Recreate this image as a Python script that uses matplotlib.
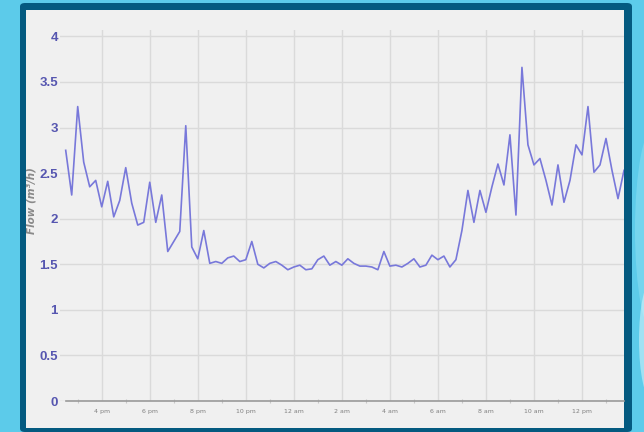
import matplotlib
matplotlib.use("Agg")
import matplotlib.pyplot as plt
from matplotlib.patches import FancyBboxPatch, Rectangle, Ellipse
import numpy as np

# ---- data (15-minute samples starting 2:30 pm) ----
flow = [2.75, 2.26, 3.23, 2.62, 2.35, 2.42, 2.13, 2.41, 2.02, 2.20,
        2.56, 2.17, 1.93, 1.96, 2.40, 1.96, 2.26, 1.64, 1.75, 1.86,
        3.02, 1.69, 1.56, 1.87, 1.51, 1.53, 1.51, 1.57, 1.59, 1.53,
        1.55, 1.75, 1.50, 1.46, 1.51, 1.53, 1.49, 1.44, 1.47, 1.49,
        1.44, 1.45, 1.55, 1.59, 1.49, 1.53, 1.49, 1.56, 1.51, 1.48,
        1.48, 1.47, 1.44, 1.64, 1.48, 1.49, 1.47, 1.51, 1.56, 1.47,
        1.49, 1.60, 1.55, 1.59, 1.47, 1.55, 1.87, 2.31, 1.96, 2.31,
        2.07, 2.35, 2.60, 2.37, 2.92, 2.04, 3.66, 2.81, 2.59, 2.66,
        2.42, 2.15, 2.59, 2.18, 2.42, 2.81, 2.70, 3.23, 2.51, 2.59,
        2.88, 2.53, 2.22, 2.53]
x_tick_labels = ["4 pm", "6 pm", "8 pm", "10 pm", "12 am", "2 am", "4 am",
                 "6 am", "8 am", "10 am", "12 pm"]
y_ticks = [0, 0.5, 1, 1.5, 2, 2.5, 3, 3.5, 4]
y_label = "Flow (m³/h)"

W, H = 644, 432
fig = plt.figure(figsize=(W / 100, H / 100), dpi=100)
fig.patch.set_facecolor("#5ccbea")

# decorative swirl on the right background
for (cx, cy, w, h, a, c) in [(655, 230, 40, 210, 0.35, "#a9e9f8"),
                             (652, 340, 26, 120, 0.5, "#e6f8fd")]:
    fig.patches.append(Ellipse((cx / W, 1 - cy / H), w / W, h / H,
                               transform=fig.transFigure, facecolor=c,
                               alpha=a, edgecolor="none", zorder=-4))

# dark frame and light panel
frame = FancyBboxPatch((20 / W, 0 / H), 612 / W, 429 / H,
                       boxstyle="round,pad=0,rounding_size=0.008",
                       transform=fig.transFigure, facecolor="#045a80",
                       edgecolor="none", zorder=-3)
fig.patches.append(frame)
panel = Rectangle((26 / W, 4 / H), 598 / W, 418 / H, transform=fig.transFigure,
                  facecolor="#f0f0f0", edgecolor="none", zorder=-2)
fig.patches.append(panel)

# axes
left, right = 60.0, 624
bottom_px, top_px = 401, 30
ax = fig.add_axes([left / W, (H - bottom_px) / H, (right - left) / W,
                   (bottom_px - top_px) / H])
ax.set_facecolor("#f0f0f0")

x = np.arange(len(flow))
ax.plot(x, flow, color="#7878da", linewidth=1.2, zorder=3, clip_on=True)

ax.set_xlim(-0.95, 93)
ax.set_ylim(0, 4.07)

major_x = [6 + 8 * k for k in range(len(x_tick_labels))]
ax.set_xticks(major_x)
ax.set_xticklabels(x_tick_labels)
ax.set_xticks([6 + 4 * k for k in range(-1, 22)], minor=True)
ax.set_yticks(y_ticks)
ax.set_yticklabels(["%g" % v for v in y_ticks])

ax.grid(True, which="major", color="#dadada", linewidth=1.0, zorder=1)
for s in ["top", "right", "left"]:
    ax.spines[s].set_visible(False)
ax.spines["bottom"].set_color("#9a9a9a")
ax.spines["bottom"].set_linewidth(1.2)
ax.spines["bottom"].set_bounds(0, 93)

ax.tick_params(axis="x", which="major", length=0, pad=6, labelsize=4.5,
               labelcolor="#808080")
ax.tick_params(axis="x", which="minor", length=3, direction="inout",
               color="#c8c8c8", width=0.8)
ax.tick_params(axis="y", length=0, pad=1.5, labelsize=9.5,
               labelcolor="#5656b0")
for t in ax.get_yticklabels():
    t.set_fontfamily("Liberation Sans")
    t.set_fontweight("bold")

fig.text(31 / W, (H - 201) / H, y_label, rotation=90, ha="center",
         va="center", fontsize=7.5, style="italic", color="#8a8a8a",
         fontweight="bold")

fig.savefig("out.png", dpi=100, facecolor=fig.get_facecolor())
